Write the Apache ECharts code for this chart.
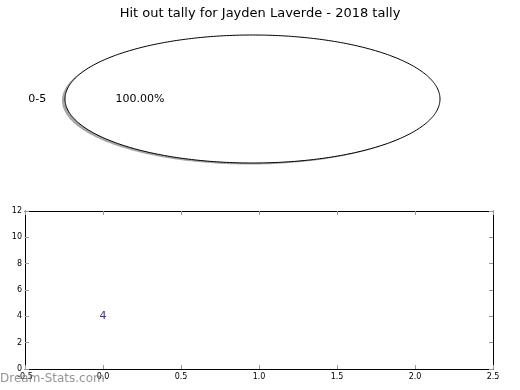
<!DOCTYPE html>
<html><head><meta charset="utf-8">
<script src="https://cdn.jsdelivr.net/npm/echarts@6/dist/echarts.min.js"></script>
<style>html,body{margin:0;padding:0;background:#fff}#c{width:520px;height:390px}</style>
</head><body><div id="c"></div>
<script>
// ---- data ----
const pieCategories = ['0-5'];
const pieValues = [4];
const tallyX = [0];
const tallyY = [4];
const tallyLabels = ['4'];
const xTickMin = -0.5, xTickMax = 2.5, xTickStep = 0.5;
const yTickMin = 0, yTickMax = 12, yTickStep = 2;

// ---- layout ----
const PIE_CX = 252.5, PIE_CY = 99, PIE_RX = 187.5, PIE_RY = 64;
const FONT = 'DejaVu Sans';

const total = pieValues.reduce((a, b) => a + b, 0);
const starts = [];
let acc = 0;
pieValues.forEach(v => { starts.push(acc); acc += v; });

function wedgePoints(a0, a1, dx, dy) {
  const pts = [];
  const full = (a1 - a0) >= Math.PI * 2 - 1e-9;
  const n = Math.max(8, Math.ceil((a1 - a0) / (Math.PI * 2) * 360));
  for (let i = 0; i <= n; i++) {
    const a = a0 + (a1 - a0) * i / n;
    pts.push([PIE_CX + dx + PIE_RX * Math.cos(a), PIE_CY + dy - PIE_RY * Math.sin(a)]);
  }
  if (!full) pts.push([PIE_CX + dx, PIE_CY + dy]);
  return pts;
}

const chart = echarts.init(document.getElementById('c'), null, {renderer: 'canvas'});
chart.setOption({
  animation: false,
  backgroundColor: '#fff',
  title: {
    text: 'Hit out tally for Jayden Laverde - 2018 tally',
    left: 'center', top: 2,
    textStyle: {fontFamily: FONT, fontSize: 13, fontWeight: 'normal', color: '#000'}
  },
  grid: {left: 25, right: 27, top: 211, bottom: 21, containLabel: false},
  xAxis: [
    {type: 'value', min: xTickMin, max: xTickMax, interval: xTickStep, position: 'bottom',
     axisLine: {show: true, onZero: false, lineStyle: {color: '#000', width: 1}},
     axisTick: {show: true, inside: true, length: 4, lineStyle: {color: '#999'}},
     axisLabel: {fontFamily: FONT, fontSize: 8, color: '#000', margin: 4, formatter: v => v.toFixed(1)},
     splitLine: {show: false}},
    {type: 'value', min: xTickMin, max: xTickMax, interval: xTickStep, position: 'top',
     axisLine: {show: true, onZero: false, lineStyle: {color: '#000', width: 1}},
     axisTick: {show: true, inside: true, length: 4, lineStyle: {color: '#999'}},
     axisLabel: {show: false}, splitLine: {show: false}}
  ],
  yAxis: [
    {type: 'value', min: yTickMin, max: yTickMax, interval: yTickStep, position: 'left',
     axisLine: {show: true, onZero: false, lineStyle: {color: '#000', width: 1}},
     axisTick: {show: true, inside: true, length: 4, lineStyle: {color: '#999'}},
     axisLabel: {fontFamily: FONT, fontSize: 8, color: '#000', margin: 3},
     splitLine: {show: false}},
    {type: 'value', min: yTickMin, max: yTickMax, interval: yTickStep, position: 'right',
     axisLine: {show: true, onZero: false, lineStyle: {color: '#000', width: 1}},
     axisTick: {show: true, inside: true, length: 4, lineStyle: {color: '#999'}},
     axisLabel: {show: false}, splitLine: {show: false}}
  ],
  graphic: [{
    type: 'text', left: 0, top: 373, z: 1,
    style: {text: 'Dream-Stats.com', fill: 'rgba(130,130,130,0.85)', font: '12px "DejaVu Sans"'}
  }],
  series: [
    {
      type: 'custom',
      coordinateSystem: 'none',
      data: pieValues.map((v, i) => [v, i]),
      renderItem: function (params, api) {
        const i = params.dataIndex;
        const v = api.value(0);
        const a0 = starts[i] / total * Math.PI * 2;
        const a1 = (starts[i] + v) / total * Math.PI * 2;
        const mid = (a0 + a1) / 2;
        const lx = PIE_CX + 1.1 * PIE_RX * Math.cos(mid);
        const ly = PIE_CY - 1.1 * PIE_RY * Math.sin(mid);
        const px = PIE_CX + 0.6 * PIE_RX * Math.cos(mid);
        const py = PIE_CY - 0.6 * PIE_RY * Math.sin(mid);
        return {
          type: 'group',
          children: [
            {type: 'polygon', z2: 1, shape: {points: wedgePoints(a0, a1, -3, 1.5)},
             style: {fill: 'rgba(77,77,77,0.5)', stroke: 'none'}},
            {type: 'polygon', z2: 2, shape: {points: wedgePoints(a0, a1, 0, 0)},
             style: {fill: '#fff', stroke: '#000', lineWidth: 1}},
            {type: 'text', z2: 3, x: lx, y: ly,
             style: {text: pieCategories[i], fill: '#000', font: '11px "DejaVu Sans"',
                     align: Math.cos(mid) < 0 ? 'right' : 'left', verticalAlign: 'middle'}},
            {type: 'text', z2: 3, x: px, y: py,
             style: {text: (v / total * 100).toFixed(2) + '%', fill: '#000', font: '11px "DejaVu Sans"',
                     align: 'center', verticalAlign: 'middle'}}
          ]
        };
      }
    },
    {
      type: 'scatter',
      xAxisIndex: 0, yAxisIndex: 0,
      symbolSize: 0,
      data: tallyX.map((x, i) => [x, tallyY[i]]),
      label: {show: true, position: 'inside', formatter: p => tallyLabels[p.dataIndex],
              color: '#000080', fontFamily: FONT, fontSize: 11}
    }
  ]
});
</script>
</body></html>
